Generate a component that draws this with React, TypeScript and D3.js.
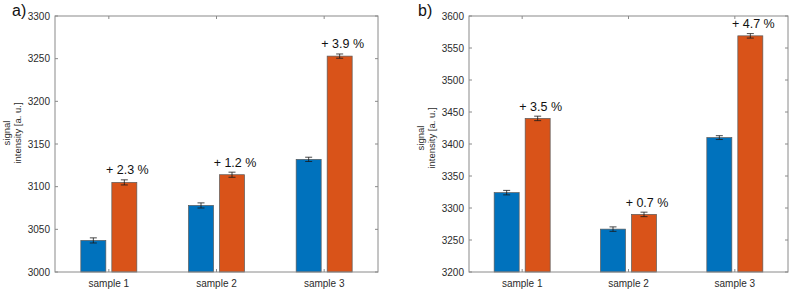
import React from "react";
import * as d3 from "d3";

const categories = ["sample 1", "sample 2", "sample 3"];

// panel a
const aBefore = [3037, 3078, 3132];
const aAfter = [3105, 3114, 3253];
const aErrBefore = [3, 3, 2.5];
const aErrAfter = [3, 3, 2.5];
const aLabels = ["+ 2.3 %", "+ 1.2 %", "+ 3.9 %"];
const aTicks = [3000, 3050, 3100, 3150, 3200, 3250, 3300];

// panel b
const bBefore = [3324, 3267, 3410];
const bAfter = [3440, 3290, 3569];
const bErrBefore = [3.5, 3.5, 3];
const bErrAfter = [3.5, 3.5, 3.5];
const bLabels = ["+ 3.5 %", "+ 0.7 %", "+ 4.7 %"];
const bTicks = [3200, 3250, 3300, 3350, 3400, 3450, 3500, 3550, 3600];

const BLUE = "#0072BD";
const ORANGE = "#D95319";
const AXIS = "#8a8a8a";
const TXT = "#2b2b2b";
const FONT = "'Liberation Sans', Arial, sans-serif";

type PanelProps = {
  left: number;
  right: number;
  top: number;
  bottom: number;
  domain: [number, number];
  ticks: number[];
  before: number[];
  after: number[];
  errBefore: number[];
  errAfter: number[];
  labels: string[];
  letter: string;
  letterX: number;
  ylabX: number;
  ylabY: number;
};

function Panel(p: PanelProps) {
  const x = d3.scaleBand<string>().domain(categories).range([p.left, p.right]).padding(0);
  const y = d3.scaleLinear().domain(p.domain).range([p.bottom, p.top]);
  const bw = 25;
  const gap = 3;
  const series = [
    { vals: p.before, errs: p.errBefore, color: BLUE, off: -gap - bw },
    { vals: p.after, errs: p.errAfter, color: ORANGE, off: gap },
  ];
  const cx = (c: string) => (x(c) as number) + x.bandwidth() / 2;
  return (
    <g>
      <text x={p.letterX} y={16} fontSize={16} fontFamily={FONT} fill="#111">
        {p.letter}
      </text>
      <g transform={`translate(${p.ylabX},${p.ylabY}) rotate(-90)`}>
        <text x={0} y={0} textAnchor="middle" fontSize={9.5} fontFamily={FONT} fill={TXT}>
          signal
        </text>
        <text x={0} y={10.5} textAnchor="middle" fontSize={9.5} fontFamily={FONT} fill={TXT}>
          intensity [a. u.]
        </text>
      </g>
      {/* bars */}
      {series.map((s, si) =>
        categories.map((c, i) => {
          const x0 = cx(c) + s.off;
          const yt = y(s.vals[i]);
          return (
            <rect
              key={`b${si}-${i}`}
              x={x0}
              y={yt}
              width={bw}
              height={p.bottom - yt}
              fill={s.color}
              stroke="#5a5a5a"
              strokeWidth={0.7}
            />
          );
        })
      )}
      {/* error bars */}
      {series.map((s, si) =>
        categories.map((c, i) => {
          const xc = cx(c) + s.off + bw / 2;
          const y1 = y(s.vals[i] + s.errs[i]);
          const y2 = y(s.vals[i] - s.errs[i]);
          return (
            <g key={`e${si}-${i}`} stroke="#1a1a1a" strokeWidth={0.8}>
              <line x1={xc} x2={xc} y1={y1} y2={y2} />
              <line x1={xc - 3.5} x2={xc + 3.5} y1={y1} y2={y1} />
              <line x1={xc - 3.5} x2={xc + 3.5} y1={y2} y2={y2} />
            </g>
          );
        })
      )}
      {/* annotations */}
      {categories.map((c, i) => (
        <text
          key={`a${i}`}
          x={cx(c) + gap + bw / 2 + 3}
          y={y(p.after[i] + p.errAfter[i]) - 5.5}
          textAnchor="middle"
          fontSize={12.5}
          fontFamily={FONT}
          fill="#111"
        >
          {p.labels[i]}
        </text>
      ))}
      {/* axes box */}
      <rect
        x={p.left}
        y={p.top}
        width={p.right - p.left}
        height={p.bottom - p.top}
        fill="none"
        stroke={AXIS}
        strokeWidth={1}
      />
      {/* y ticks */}
      {p.ticks.map((t) => (
        <g key={`t${t}`}>
          <line x1={p.left} x2={p.left + 3} y1={y(t)} y2={y(t)} stroke={AXIS} />
          <line x1={p.right} x2={p.right - 3} y1={y(t)} y2={y(t)} stroke={AXIS} />
          <text
            x={p.left - 5}
            y={y(t)}
            dy="0.35em"
            textAnchor="end"
            fontSize={10}
            fontFamily={FONT}
            fill={TXT}
          >
            {t}
          </text>
        </g>
      ))}
      {/* x ticks */}
      {categories.map((c) => (
        <g key={`x${c}`}>
          <line x1={cx(c)} x2={cx(c)} y1={p.bottom} y2={p.bottom - 3} stroke={AXIS} />
          <line x1={cx(c)} x2={cx(c)} y1={p.top} y2={p.top + 3} stroke={AXIS} />
          <text
            x={cx(c)}
            y={p.bottom + 15}
            textAnchor="middle"
            fontSize={10}
            fontFamily={FONT}
            fill={TXT}
          >
            {c}
          </text>
        </g>
      ))}
    </g>
  );
}

export default function App() {
  return (
    <svg
      width={793}
      height={290}
      style={{ position: "absolute", left: 0, top: 0, background: "#fff" }}
    >
      <rect width={793} height={290} fill="#fff" />
      <Panel
        left={55}
        right={378}
        top={16}
        bottom={272}
        domain={[3000, 3300]}
        ticks={aTicks}
        before={aBefore}
        after={aAfter}
        errBefore={aErrBefore}
        errAfter={aErrAfter}
        labels={aLabels}
        letter="a)"
        letterX={12}
        ylabX={10}
        ylabY={133}
      />
      <Panel
        left={469}
        right={788}
        top={16}
        bottom={272}
        domain={[3200, 3600]}
        ticks={bTicks}
        before={bBefore}
        after={bAfter}
        errBefore={bErrBefore}
        errAfter={bErrAfter}
        labels={bLabels}
        letter="b)"
        letterX={418}
        ylabX={424}
        ylabY={138}
      />
    </svg>
  );
}
